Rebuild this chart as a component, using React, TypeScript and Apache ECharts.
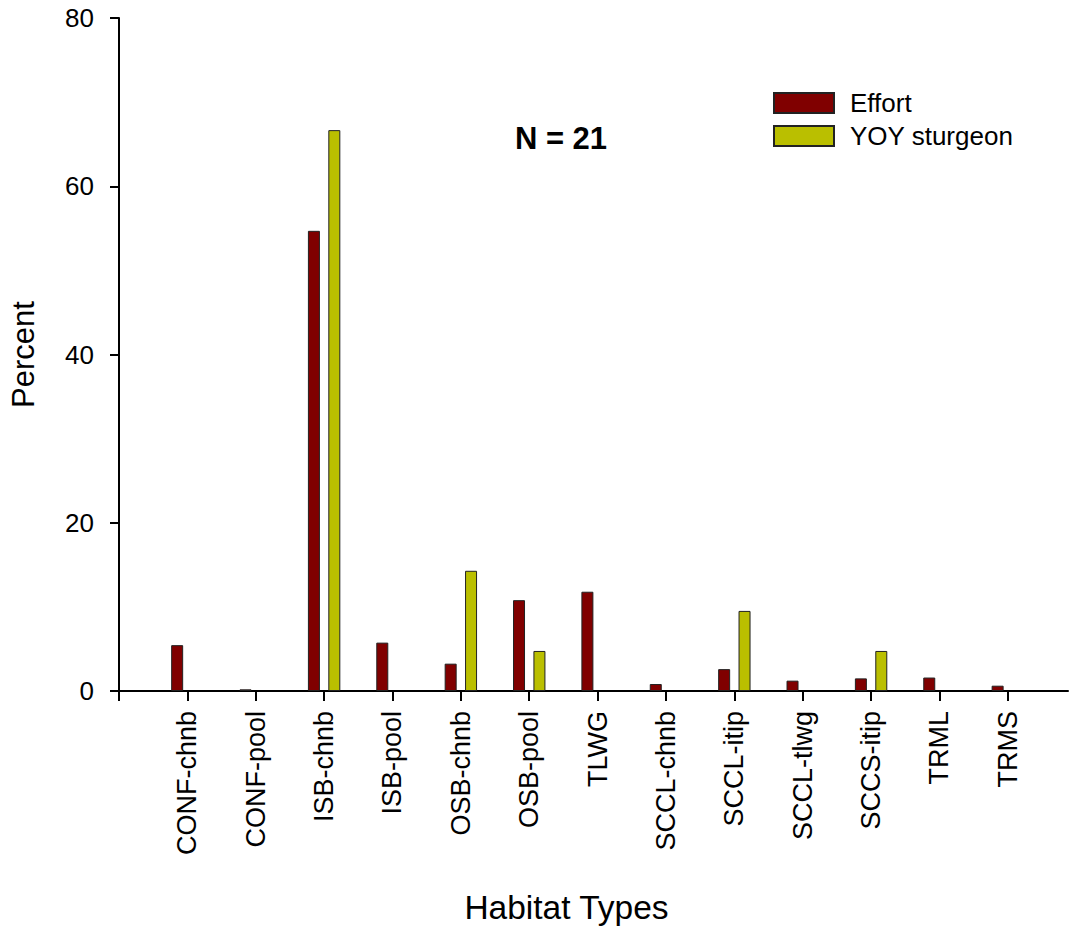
import React, { useEffect, useRef } from "react";
import * as echarts from "echarts";

const categories = [
  "CONF-chnb", "CONF-pool", "ISB-chnb", "ISB-pool", "OSB-chnb", "OSB-pool", "TLWG",
  "SCCL-chnb", "SCCL-itip", "SCCL-tlwg", "SCCS-itip", "TRML", "TRMS",
];
const effort = [5.45, 0.2, 54.7, 5.75, 3.25, 10.8, 11.8, 0.83, 2.6, 1.23, 1.5, 1.6, 0.63];
const yoy = [0, 0, 66.67, 0, 14.29, 4.76, 0, 0, 9.52, 0, 4.76, 0, 0];
const yTicks = [0, 20, 40, 60, 80];

const FONT = 'Arial, "Liberation Sans", Helvetica, sans-serif';

export default function App() {
  const ref = useRef<HTMLDivElement>(null);
  useEffect(() => {
    if (!ref.current) return;
    const chart = echarts.init(ref.current, undefined, { renderer: "svg" });
    const toData = (arr: number[]) =>
      arr.map((v, i) => (v === 0 ? [i, "-"] : [i, v]));
    const idx = categories.map((_, i) => i);
    chart.setOption({
      animation: false,
      backgroundColor: "#fff",
      textStyle: { fontFamily: FONT },
      grid: { left: 117, right: 2, top: 18, bottom: 235, containLabel: false },
      legend: {
        orient: "vertical",
        left: 773,
        top: 90,
        itemWidth: 60,
        itemHeight: 20,
        itemGap: 7,
        icon: "rect",
        padding: 0,
        textStyle: { fontSize: 26, fontFamily: FONT, color: "#000", lineHeight: 20, padding: [0, 0, 0, 11] },
        data: ["Effort", "YOY sturgeon"],
      },
      xAxis: {
        type: "value",
        min: -1,
        max: 12.88,
        interval: 1,
        splitLine: { show: false },
        axisLine: { show: true, onZero: false, lineStyle: { color: "#000", width: 2 } },
        axisTick: {
          show: true,
          length: 10,
          lineStyle: { color: "#000", width: 2 },
          customValues: [-1, ...idx],
        },
        axisLabel: {
          customValues: idx,
          rotate: 90,
          margin: 20,
          fontSize: 27,
          fontFamily: FONT,
          color: "#000",
          formatter: (v: number) => categories[Math.round(v)] ?? "",
        },
      },
      yAxis: {
        type: "value",
        min: 0,
        max: 80,
        interval: 20,
        name: "Percent",
        nameLocation: "middle",
        nameGap: 80,
        nameTextStyle: { fontSize: 31, fontFamily: FONT, color: "#000" },
        splitLine: { show: false },
        axisLine: { show: true, onZero: false, lineStyle: { color: "#000", width: 2 } },
        axisTick: { show: true, length: 9, lineStyle: { color: "#000", width: 2 } },
        axisLabel: {
          margin: 25,
          fontSize: 26,
          fontFamily: FONT,
          color: "#000",
          customValues: yTicks,
        },
      },
      graphic: [
        {
          type: "text",
          x: 566.5,
          y: 907,
          style: {
            text: "Habitat Types",
            fontSize: 33.5,
            fontFamily: FONT,
            fill: "#000",
            align: "center",
            verticalAlign: "middle",
          },
        },
        {
          type: "text",
          x: 561,
          y: 138,
          style: {
            text: "N = 21",
            fontSize: 31,
            fontWeight: "bold",
            fontFamily: FONT,
            fill: "#000",
            align: "center",
            verticalAlign: "middle",
          },
        },
      ],
      series: [
        {
          name: "Effort",
          type: "bar",
          data: toData(effort),
          barWidth: 12,
          barGap: "70%",
          itemStyle: { color: "#800000", borderColor: "#222", borderWidth: 1 },
        },
        {
          name: "YOY sturgeon",
          type: "bar",
          data: toData(yoy),
          barWidth: 12,
          barGap: "70%",
          itemStyle: { color: "#BABF00", borderColor: "#222", borderWidth: 1 },
        },
      ],
    });
    return () => chart.dispose();
  }, []);
  return (
    <div
      ref={ref}
      style={{ position: "absolute", left: 0, top: 0, width: 1070, height: 926 }}
    />
  );
}
